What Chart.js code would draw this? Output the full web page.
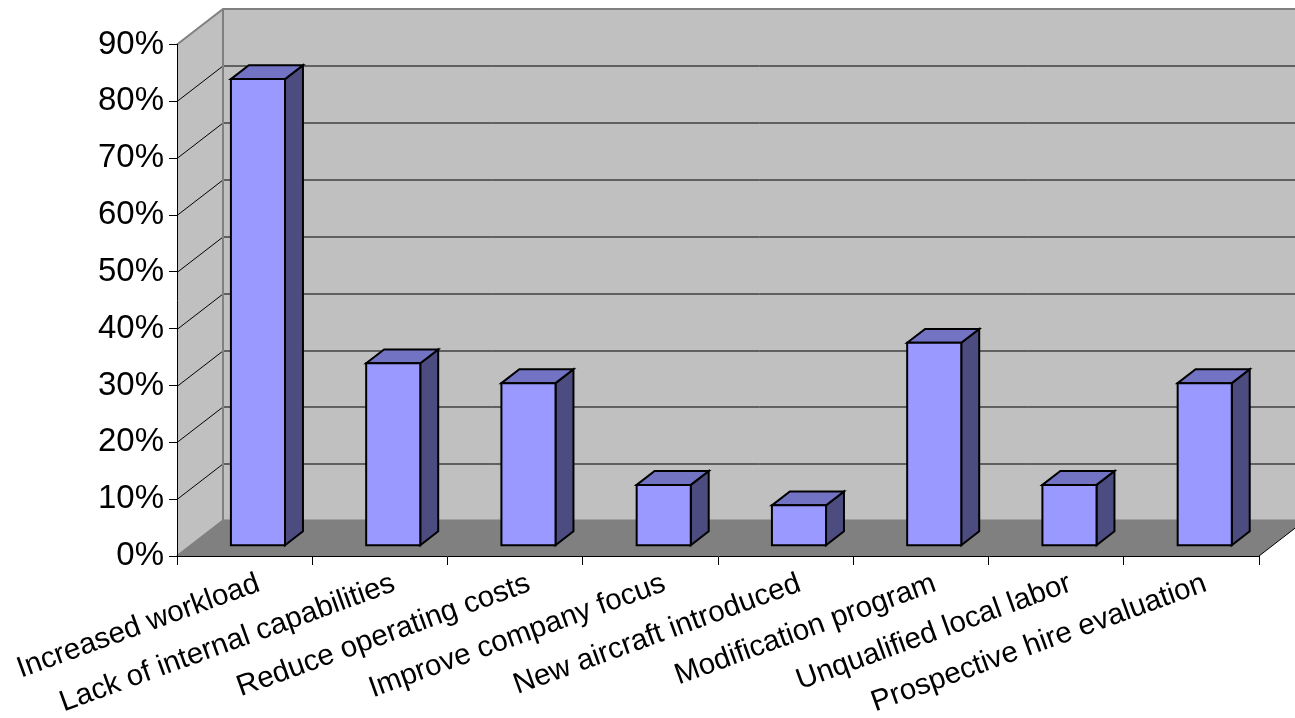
<!DOCTYPE html>
<html>
<head>
<meta charset="utf-8">
<script src="https://cdn.jsdelivr.net/npm/chart.js@4.4.1/dist/chart.umd.min.js"></script>
<style>
  html, body { margin: 0; padding: 0; background: #ffffff; }
  #caja { width: 1295px; height: 718px; }
</style>
</head>
<body>
<div id="caja"><canvas id="grafico" width="1295" height="718"></canvas></div>
<script>
// Datos del grafico
const categorias = [
    'Increased workload',
    'Lack of internal capabilities',
    'Reduce operating costs',
    'Improve company focus',
    'New aircraft introduced',
    'Modification program',
    'Unqualified local labor',
    'Prospective hire evaluation'
];
const porcentajes = [82.1, 32.1, 28.6, 10.7, 7.1, 35.7, 10.7, 28.6];
const limiteEje = 90;
const pasoEje = 10;

// Profundidad de la perspectiva (pixeles) y posicion de las barras dentro de ella
const PROF_X = 46;
const PROF_Y = -35.5;
const BARRA_FRENTE = 0.29;
const BARRA_FONDO = 0.68;

const paredes3d = {
    id: 'paredes3d',
    beforeDraw(chart) {
        const ctx = chart.ctx;
        const a = chart.chartArea;
        const escalaY = chart.scales.y;
        const fin = chart.width + 20;

        ctx.save();
        // pared izquierda
        ctx.fillStyle = '#C0C0C0';
        ctx.beginPath();
        ctx.moveTo(a.left, a.bottom);
        ctx.lineTo(a.left, a.top);
        ctx.lineTo(a.left + PROF_X, a.top + PROF_Y);
        ctx.lineTo(a.left + PROF_X, a.bottom + PROF_Y);
        ctx.closePath();
        ctx.fill();
        // pared del fondo
        ctx.fillRect(a.left + PROF_X, a.top + PROF_Y, fin, a.bottom - a.top);
        // piso
        ctx.fillStyle = '#808080';
        ctx.beginPath();
        ctx.moveTo(a.left, a.bottom);
        ctx.lineTo(a.right, a.bottom);
        ctx.lineTo(a.right + PROF_X, a.bottom + PROF_Y);
        ctx.lineTo(a.left + PROF_X, a.bottom + PROF_Y);
        ctx.closePath();
        ctx.fill();

        // lineas de division sobre las paredes
        ctx.strokeStyle = '#000000';
        ctx.lineWidth = 1;
        escalaY.ticks.forEach(t => {
            if (t.value <= 0 || t.value >= limiteEje) return;
            const py = Math.round(escalaY.getPixelForValue(t.value)) + 0.5;
            ctx.beginPath();
            ctx.moveTo(a.left, py);
            ctx.lineTo(a.left + PROF_X, py + PROF_Y);
            ctx.lineTo(fin, py + PROF_Y);
            ctx.stroke();
        });

        // bordes grises de las paredes
        ctx.strokeStyle = '#808080';
        ctx.lineWidth = 2;
        ctx.beginPath();
        ctx.moveTo(a.left, a.top);
        ctx.lineTo(a.left + PROF_X, a.top + PROF_Y);
        ctx.lineTo(fin, a.top + PROF_Y);
        ctx.moveTo(a.left + PROF_X, a.top + PROF_Y);
        ctx.lineTo(a.left + PROF_X, a.bottom + PROF_Y);
        ctx.lineTo(fin, a.bottom + PROF_Y);
        ctx.moveTo(a.left, a.bottom);
        ctx.lineTo(a.left + PROF_X, a.bottom + PROF_Y);
        ctx.stroke();

        // borde derecho del piso
        ctx.strokeStyle = '#000000';
        ctx.lineWidth = 1;
        ctx.beginPath();
        ctx.moveTo(a.right, a.bottom);
        ctx.lineTo(a.right + PROF_X, a.bottom + PROF_Y);
        ctx.stroke();
        ctx.restore();
    },
    afterDatasetsDraw(chart) {
        const ctx = chart.ctx;
        const meta = chart.getDatasetMeta(0);
        const fx = BARRA_FRENTE * PROF_X, fy = BARRA_FRENTE * PROF_Y;
        const bx = (BARRA_FONDO - BARRA_FRENTE) * PROF_X;
        const by = (BARRA_FONDO - BARRA_FRENTE) * PROF_Y;

        ctx.save();
        ctx.strokeStyle = '#000000';
        ctx.lineWidth = 2;
        ctx.lineJoin = 'miter';
        meta.data.forEach(barra => {
            const p = barra.getProps(['x', 'y', 'base', 'width'], true);
            const x0 = p.x - p.width / 2 + fx;
            const x1 = p.x + p.width / 2 + fx;
            const arriba = p.y + fy;
            const abajo = p.base + fy;

            // cara lateral
            ctx.fillStyle = '#4C4C80';
            ctx.beginPath();
            ctx.moveTo(x1, arriba);
            ctx.lineTo(x1 + bx, arriba + by);
            ctx.lineTo(x1 + bx, abajo + by);
            ctx.lineTo(x1, abajo);
            ctx.closePath();
            ctx.fill();
            ctx.stroke();

            // cara superior
            ctx.fillStyle = '#7373C4';
            ctx.beginPath();
            ctx.moveTo(x0, arriba);
            ctx.lineTo(x0 + bx, arriba + by);
            ctx.lineTo(x1 + bx, arriba + by);
            ctx.lineTo(x1, arriba);
            ctx.closePath();
            ctx.fill();
            ctx.stroke();

            // cara frontal
            ctx.fillStyle = '#9999FF';
            ctx.beginPath();
            ctx.rect(x0, arriba, x1 - x0, abajo - arriba);
            ctx.fill();
            ctx.stroke();
        });
        ctx.restore();
    }
};

function mostrarGrafico() {
    const ctx = document.getElementById('grafico').getContext('2d');
    new Chart(ctx, {
        type: 'bar',
        data: {
            labels: categorias,
            datasets: [{
                data: porcentajes,
                backgroundColor: 'rgba(0,0,0,0)',
                borderWidth: 0,
                categoryPercentage: 1,
                barPercentage: 0.4
            }]
        },
        options: {
            responsive: false,
            animation: false,
            events: [],
            layout: { padding: { top: 44.5, right: 36, left: 0, bottom: 0 } },
            plugins: {
                legend: { display: false },
                tooltip: { enabled: false }
            },
            scales: {
                x: {
                    grid: { offset: true, drawOnChartArea: false, tickLength: 9, color: '#000000' },
                    border: { color: '#000000', width: 1 },
                    ticks: {
                        color: '#000000',
                        font: { family: 'Liberation Sans', size: 29.5 },
                        minRotation: 20,
                        maxRotation: 20,
                        autoSkip: false,
                        labelOffset: 14,
                        padding: 1
                    },
                    afterFit(escala) {
                        escala.height = 162;
                        escala.paddingLeft = 0;
                        escala.paddingRight = 0;
                    }
                },
                y: {
                    min: 0,
                    max: limiteEje,
                    ticks: {
                        stepSize: pasoEje,
                        color: '#000000',
                        font: { family: 'Liberation Sans', size: 33 },
                        padding: 5,
                        callback: v => v + '%'
                    },
                    grid: { drawOnChartArea: false, tickLength: 8, color: '#000000' },
                    border: { color: '#000000', width: 1 },
                    afterFit(escala) {
                        escala.width = 177;
                        escala.paddingTop = 0;
                        escala.paddingBottom = 0;
                    }
                }
            }
        },
        plugins: [paredes3d]
    });
}

mostrarGrafico();
</script>
</body>
</html>
